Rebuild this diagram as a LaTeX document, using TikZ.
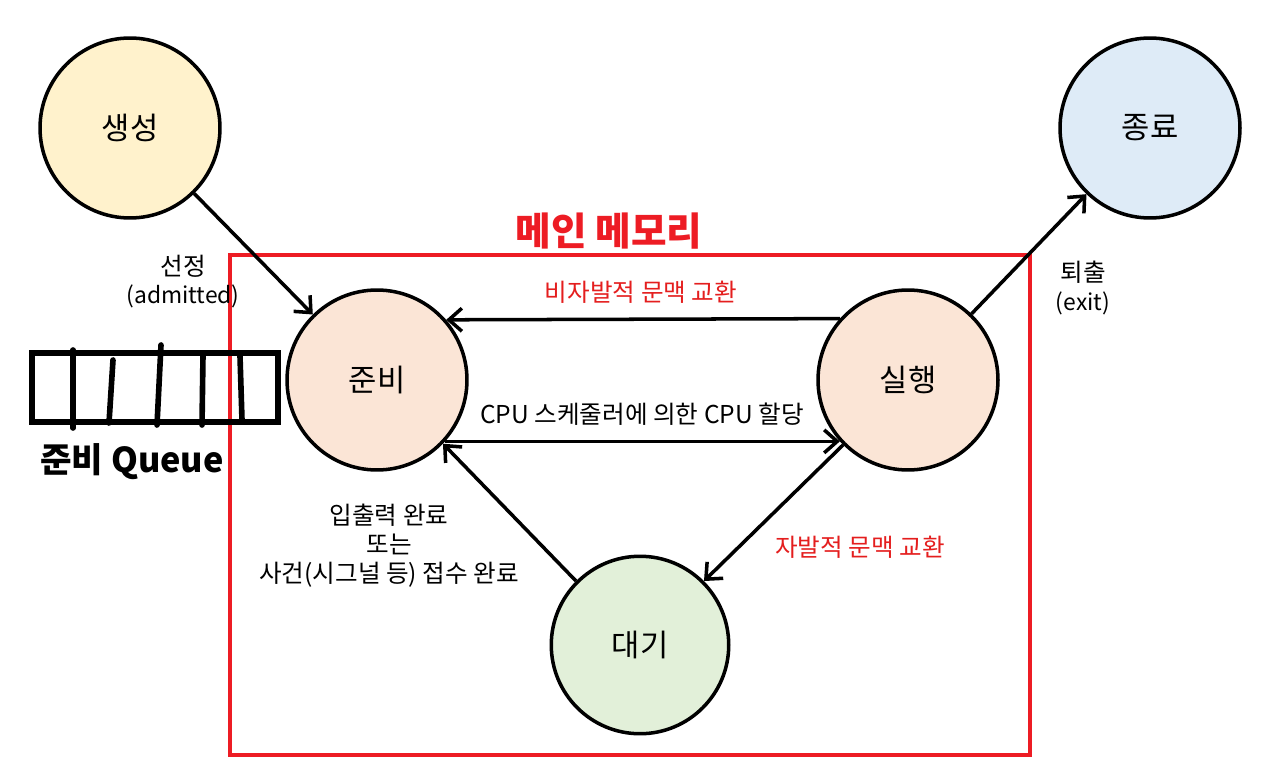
\documentclass[tikz,border=0pt]{standalone}
\usepackage{fontspec}
\setmainfont{Noto Sans CJK KR}
\usetikzlibrary{arrows.meta}
\definecolor{memred}{RGB}{237,28,36}
\definecolor{txtred}{RGB}{228,30,30}
\definecolor{cyellow}{RGB}{255,242,204}
\definecolor{cblue}{RGB}{222,235,247}
\definecolor{cpeach}{RGB}{251,229,214}
\definecolor{cgreen}{RGB}{226,240,217}
\tikzset{
  state/.style={circle, draw=black, line width=2pt, minimum size=3.6cm, inner sep=0pt, font=\fontsize{17.5}{20}\selectfont},
  conn/.style={line width=2pt, -{Straight Barb[length=2.6mm,width=4.6mm]}},
  lbl/.style={font=\fontsize{14}{17}\selectfont, align=center},
  latlbl/.style={font=\fontsize{13}{16}\selectfont, align=center},
  redlbl/.style={lbl, text=txtred},
  qline/.style={line width=3.2pt},
}
\begin{document}
\begin{tikzpicture}[x=0.02cm,y=-0.02cm]
\useasboundingbox (0,0) rectangle (1280,773);
% main memory
\draw[memred, line width=2.6pt] (230,255) rectangle (1030,755);
\node[text=memred, font=\fontsize{22}{26}\selectfont\bfseries] (mem) at (609,231) {메인 메모리};
% states
\node[state, fill=cyellow] (create) at (130,128) {생성};
\node[state, fill=cblue] (term) at (1150,128) {종료};
\node[state, fill=cpeach] (ready) at (377,380) {준비};
\node[state, fill=cpeach] (run) at (908,380) {실행};
\node[state, fill=cgreen, minimum size=3.55cm] (wait) at (640,645) {대기};
% queue
\draw[qline] (32,353) rectangle (278,422);
\coordinate (q1t) at (73,350); \coordinate (q1b) at (73,428);
\coordinate (q2t) at (113,360); \coordinate (q2b) at (109,423);
\coordinate (q3t) at (161,345); \coordinate (q3b) at (157,425);
\coordinate (q4t) at (203,355); \coordinate (q4b) at (202,425);
\coordinate (q5t) at (240,356); \coordinate (q5b) at (242,420);
\draw[qline, line cap=round] (q1t) -- (q1b);
\draw[qline, line cap=round] (q2t) -- (q2b);
\draw[qline, line cap=round] (q3t) -- (q3b);
\draw[qline, line cap=round] (q4t) -- (q4b);
\draw[qline, line cap=round] (q5t) -- (q5b);
\node[font=\fontsize{19.5}{22}\selectfont\bfseries] (qlbl) at (132,462) {준비 Queue};
% connectors
\draw[conn] (create) -- (ready);
\draw[conn] (run) -- (term);
\draw[conn] (run.138.6) -- (ready.41.4);
\draw[conn] (ready.-42.6) -- (run.222.6);
\draw[conn] (run.225) -- (wait.45);
\draw[conn] (wait.135) -- (ready.-44);
% labels
\node[lbl] (l1) at (183,266) {선정};
\node[latlbl] (l2) at (183,296) {(admitted)};
\node[lbl] (l3) at (1083,272) {퇴출};
\node[latlbl] (l4) at (1083,303) {(exit)};
\node[redlbl] (l5) at (641,292) {비자발적 문맥 교환};
\node[lbl] (l6) at (642,414) {CPU 스케줄러에 의한 CPU 할당};
\node[redlbl] (l7) at (860,547) {자발적 문맥 교환};
\node[lbl, font=\fontsize{14}{16.5}\selectfont] (l8) at (389,546) {입출력 완료\\또는\\사건(시그널 등) 접수 완료};
\end{tikzpicture}
\end{document}
